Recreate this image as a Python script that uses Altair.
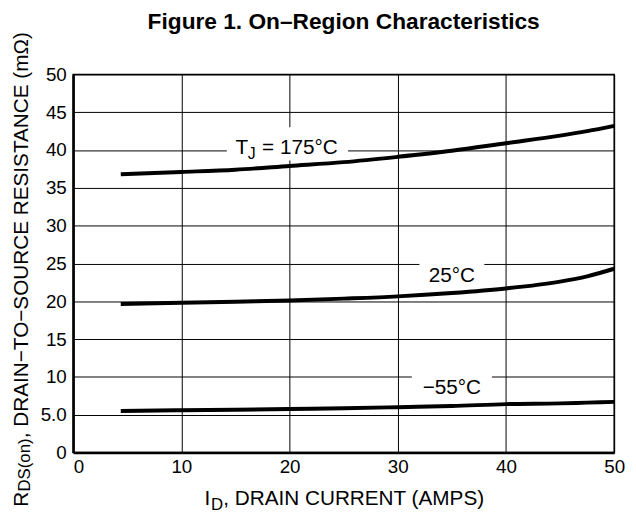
import altair as alt
import pandas as pd

# ---- data ----
current = [4.4, 10, 15, 20, 25, 30, 35, 40, 45, 47.5, 50]
r_175 = [36.8, 37.1, 37.4, 37.9, 38.4, 39.1, 39.9, 40.9, 41.9, 42.5, 43.2]
r_25 = [19.65, 19.8, 19.95, 20.1, 20.35, 20.65, 21.1, 21.7, 22.6, 23.3, 24.3]
r_m55 = [5.5, 5.6, 5.65, 5.75, 5.85, 6.0, 6.15, 6.4, 6.5, 6.6, 6.7]
series_names = ["175", "25", "-55"]

x_ticks = [0, 10, 20, 30, 40, 50]
y_ticks = [0, 5, 10, 15, 20, 25, 30, 35, 40, 45, 50]

# curve labels (text, anchor x/y in data units) and the white gaps they cut in the grid
label_text = ["25°C", "−55°C"]
label_x = [35.0, 35.0]
label_y = [23.3, 8.5]
tj_x, tj_y = 15.0, 40.2
box_x1 = [14.2, 32.0, 31.3]
box_x2 = [25.4, 38.0, 38.7]
box_y1 = [38.6, 22.2, 7.6]
box_y2 = [43.0, 25.8, 10.6]

FONT = "Liberation Sans"
W, H = 548, 383

rows = []
for name, vals in zip(series_names, [r_175, r_25, r_m55]):
    for c, v in zip(current, vals):
        rows.append({"current": c, "r": v, "series": name})
df = pd.DataFrame(rows)

xscale = alt.Scale(domain=[0, 50], nice=False, zero=False)
yscale = alt.Scale(domain=[0, 50], nice=False)

x_axis = alt.Axis(values=x_ticks, title=None, labelPadding=5, labelOverlap=False,
                  labelFlush=False,
                  labelAlign=alt.ExprRef(expr="datum.value == 0 ? 'left' : 'center'"))
y_axis = alt.Axis(values=y_ticks, title=None, labelPadding=7, labelOverlap=False,
                  labelFlush=False,
                  labelExpr="datum.value == 5 ? '5.0' : datum.label")


def X(field):
    return alt.X(field, scale=xscale, axis=x_axis)


def Y(field):
    return alt.Y(field, scale=yscale, axis=y_axis)


boxes_df = pd.DataFrame({"x1": box_x1, "x2": box_x2, "y1": box_y1, "y2": box_y2})
boxes = alt.Chart(boxes_df).mark_rect(color="white").encode(
    x=X("x1:Q"), x2="x2:Q", y=Y("y1:Q"), y2="y2:Q",
)

lines = alt.Chart(df).mark_line(color="black", strokeWidth=4, strokeCap="butt",
                                interpolate="monotone").encode(
    x=X("current:Q"), y=Y("r:Q"), detail="series:N",
)

lab_df = pd.DataFrame({"t": label_text, "x": label_x, "y": label_y})
labels = alt.Chart(lab_df).mark_text(font=FONT, fontSize=21, color="black",
                                     baseline="middle").encode(
    x=X("x:Q"), y=Y("y:Q"), text="t:N")

tj_df = pd.DataFrame({"x": [tj_x], "y": [tj_y]})
tj_base = alt.Chart(tj_df).encode(x=X("x:Q"), y=Y("y:Q"))
tj_T = tj_base.mark_text(text="T", font=FONT, fontSize=21, align="left", baseline="middle")
tj_J = tj_base.mark_text(text="J", font=FONT, fontSize=16, align="left", baseline="middle",
                         dx=12.5, dy=6)
tj_rest = tj_base.mark_text(text="= 175°C", font=FONT, fontSize=21, align="left",
                            baseline="middle", dx=27)

one = pd.DataFrame({"a": [0]})
ann = alt.Chart(one)

title = ann.mark_text(text="Figure 1. On–Region Characteristics", font=FONT, fontSize=23,
                      fontWeight="bold", align="center", baseline="alphabetic").encode(
    x=alt.value(W / 2), y=alt.value(-46))

# x-axis title with subscript
xt_I = ann.mark_text(text="I", font=FONT, fontSize=21, align="left", baseline="alphabetic").encode(
    x=alt.value(133), y=alt.value(436))
xt_D = ann.mark_text(text="D", font=FONT, fontSize=17, align="left", baseline="alphabetic").encode(
    x=alt.value(139.5), y=alt.value(441))
xt_rest = ann.mark_text(text=", DRAIN CURRENT (AMPS)", font=FONT, fontSize=21, align="left",
                        baseline="alphabetic").encode(x=alt.value(152), y=alt.value(436))

# y-axis title with subscript (rotated)
yt_R = ann.mark_text(text="R", font=FONT, fontSize=21, align="left", baseline="alphabetic",
                     angle=270).encode(x=alt.value(-46), y=alt.value(438))
yt_DS = ann.mark_text(text="DS(on)", font=FONT, fontSize=17, align="left", baseline="alphabetic",
                      angle=270).encode(x=alt.value(-44), y=alt.value(422.5))
yt_rest = ann.mark_text(text=", DRAIN−TO−SOURCE RESISTANCE (mΩ)", font=FONT, fontSize=21,
                        align="left", baseline="alphabetic", angle=270).encode(
    x=alt.value(-46), y=alt.value(368.5))

chart = alt.layer(
    boxes, lines, labels, tj_T, tj_J, tj_rest, title,
    xt_I, xt_D, xt_rest, yt_R, yt_DS, yt_rest,
).properties(
    width=W, height=H,
    autosize=alt.AutoSizeParams(type="none"),
    padding={"left": 66, "top": 64, "right": 14, "bottom": 59},
).configure_view(
    stroke="black", strokeWidth=1.5,
).configure_axis(
    grid=True, gridColor="black", gridWidth=1, gridOpacity=1,
    domainColor="black", domainWidth=2.5,
    ticks=False, labelFont=FONT, labelFontSize=19, labelColor="black",
).configure_text(color="black")

chart.save("out.html", embed_options={"renderer": "svg", "actions": False})
